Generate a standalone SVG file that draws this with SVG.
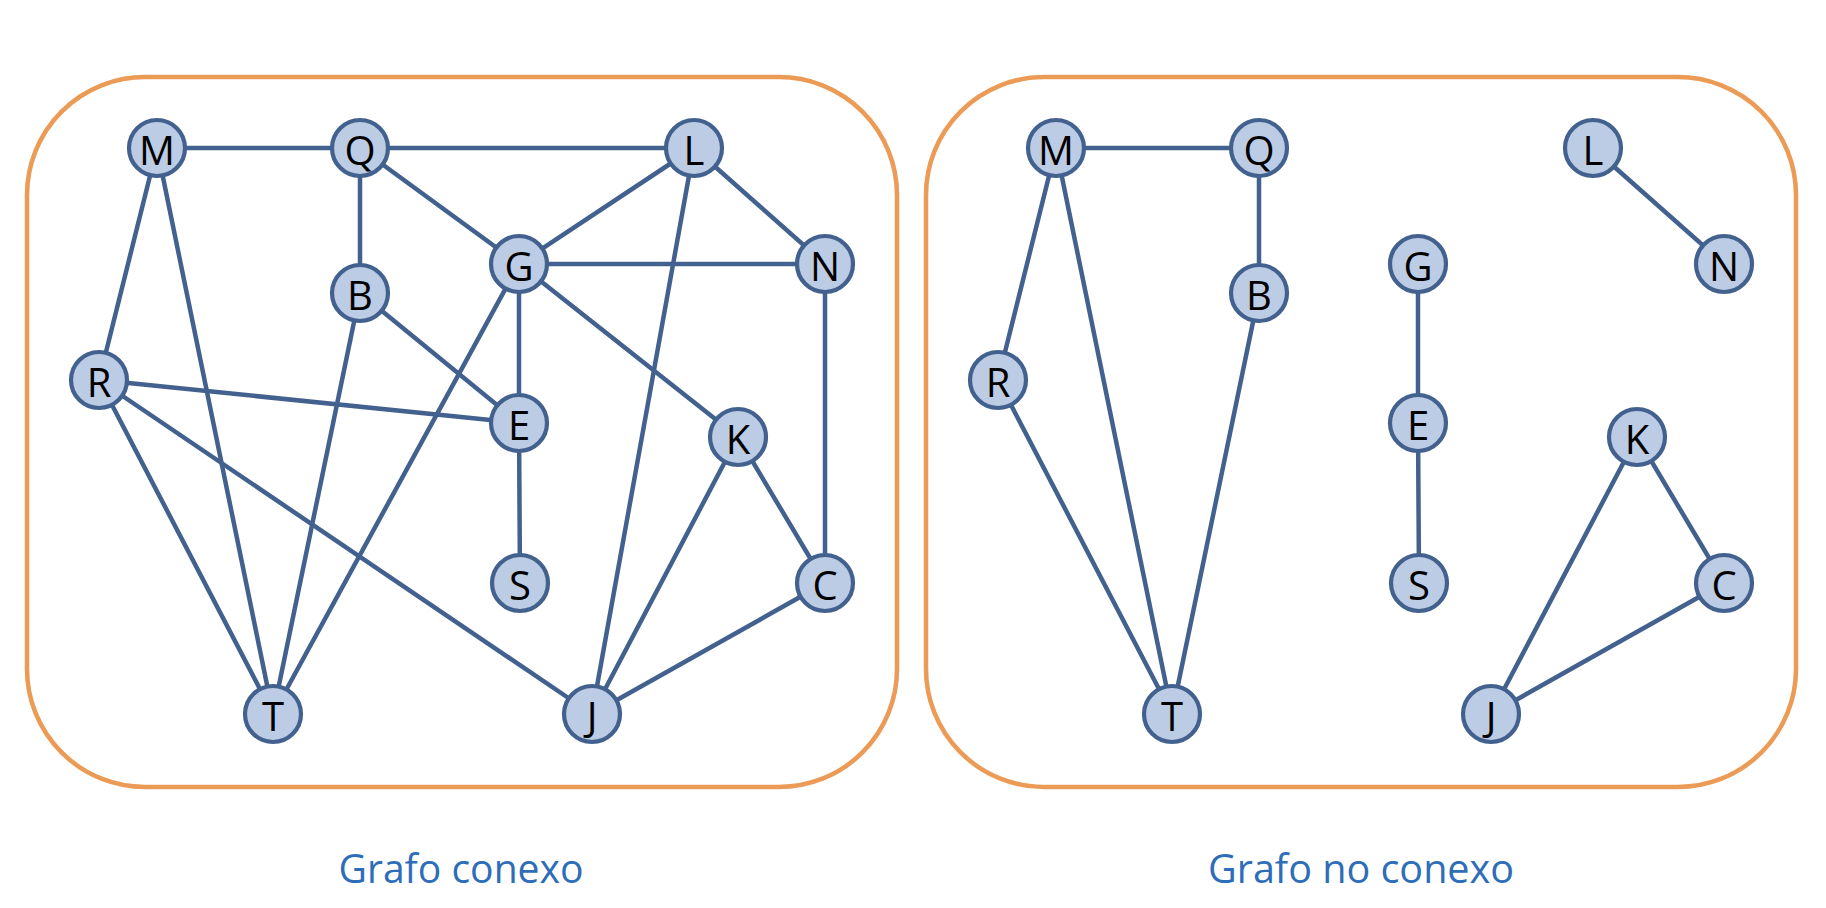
<svg xmlns="http://www.w3.org/2000/svg" width="1826" height="908" viewBox="0 0 1826 908">
<style>
.frame{fill:none;stroke:#EB9B55;stroke-width:4.5}
.edge{stroke:#42618F;stroke-width:4.5;stroke-linecap:round}
.node circle{fill:#BCCCE4;stroke:#42618F;stroke-width:4.2}
.node text{font-family:"Open Sans","Noto Sans","Liberation Sans",sans-serif;font-size:40px;fill:#000;text-anchor:middle}
.cap{font-family:"Open Sans","Noto Sans","Liberation Sans",sans-serif;font-size:40px;fill:#2E6DB8;text-anchor:middle}
</style>
<rect width="1826" height="908" fill="#fff"/>
<g id="frames">
<rect class="frame" x="27" y="77" width="870" height="710" rx="118" ry="118"/>
<rect class="frame" x="926" y="77" width="870" height="710" rx="118" ry="118"/>
</g>
<g id="connectors">
<line class="edge" x1="157" y1="148" x2="360" y2="148"/>
<line class="edge" x1="360" y1="148" x2="694" y2="148"/>
<line class="edge" x1="157" y1="148" x2="99" y2="380"/>
<line class="edge" x1="157" y1="148" x2="273" y2="714"/>
<line class="edge" x1="360" y1="148" x2="360" y2="293"/>
<line class="edge" x1="360" y1="148" x2="519" y2="264"/>
<line class="edge" x1="694" y1="148" x2="519" y2="264"/>
<line class="edge" x1="694" y1="148" x2="825" y2="264"/>
<line class="edge" x1="694" y1="148" x2="592" y2="714"/>
<line class="edge" x1="519" y1="264" x2="825" y2="264"/>
<line class="edge" x1="519" y1="264" x2="519" y2="423"/>
<line class="edge" x1="519" y1="264" x2="738" y2="437"/>
<line class="edge" x1="519" y1="264" x2="273" y2="714"/>
<line class="edge" x1="360" y1="293" x2="519" y2="423"/>
<line class="edge" x1="360" y1="293" x2="273" y2="714"/>
<line class="edge" x1="99" y1="380" x2="519" y2="423"/>
<line class="edge" x1="99" y1="380" x2="273" y2="714"/>
<line class="edge" x1="99" y1="380" x2="592" y2="714"/>
<line class="edge" x1="519" y1="423" x2="520" y2="583"/>
<line class="edge" x1="825" y1="264" x2="825" y2="583"/>
<line class="edge" x1="738" y1="437" x2="825" y2="583"/>
<line class="edge" x1="738" y1="437" x2="592" y2="714"/>
<line class="edge" x1="825" y1="583" x2="592" y2="714"/>
<line class="edge" x1="1056" y1="148" x2="1259" y2="148"/>
<line class="edge" x1="1056" y1="148" x2="998" y2="380"/>
<line class="edge" x1="1056" y1="148" x2="1172" y2="714"/>
<line class="edge" x1="1259" y1="148" x2="1259" y2="293"/>
<line class="edge" x1="1259" y1="293" x2="1172" y2="714"/>
<line class="edge" x1="998" y1="380" x2="1172" y2="714"/>
<line class="edge" x1="1418" y1="264" x2="1418" y2="423"/>
<line class="edge" x1="1418" y1="423" x2="1419" y2="583"/>
<line class="edge" x1="1593" y1="148" x2="1724" y2="264"/>
<line class="edge" x1="1637" y1="437" x2="1724" y2="583"/>
<line class="edge" x1="1637" y1="437" x2="1491" y2="714"/>
<line class="edge" x1="1724" y1="583" x2="1491" y2="714"/>
</g>
<g id="L_M" class="node"><circle cx="157" cy="148" r="28"/><text x="157" y="164.5">M</text></g>
<g id="L_Q" class="node"><circle cx="360" cy="148" r="28"/><text x="360" y="164.5">Q</text></g>
<g id="L_L" class="node"><circle cx="694" cy="148" r="28"/><text x="694" y="164.5">L</text></g>
<g id="L_G" class="node"><circle cx="519" cy="264" r="28"/><text x="519" y="280.5">G</text></g>
<g id="L_N" class="node"><circle cx="825" cy="264" r="28"/><text x="825" y="280.5">N</text></g>
<g id="L_B" class="node"><circle cx="360" cy="293" r="28"/><text x="360" y="309.5">B</text></g>
<g id="L_R" class="node"><circle cx="99" cy="380" r="28"/><text x="99" y="396.5">R</text></g>
<g id="L_E" class="node"><circle cx="519" cy="423" r="28"/><text x="519" y="439.5">E</text></g>
<g id="L_K" class="node"><circle cx="738" cy="437" r="28"/><text x="738" y="453.5">K</text></g>
<g id="L_S" class="node"><circle cx="520" cy="583" r="28"/><text x="520" y="599.5">S</text></g>
<g id="L_C" class="node"><circle cx="825" cy="583" r="28"/><text x="825" y="599.5">C</text></g>
<g id="L_T" class="node"><circle cx="273" cy="714" r="28"/><text x="273" y="730.5">T</text></g>
<g id="L_J" class="node"><circle cx="592" cy="714" r="28"/><text x="592" y="730.5">J</text></g>
<g id="R_M" class="node"><circle cx="1056" cy="148" r="28"/><text x="1056" y="164.5">M</text></g>
<g id="R_Q" class="node"><circle cx="1259" cy="148" r="28"/><text x="1259" y="164.5">Q</text></g>
<g id="R_L" class="node"><circle cx="1593" cy="148" r="28"/><text x="1593" y="164.5">L</text></g>
<g id="R_G" class="node"><circle cx="1418" cy="264" r="28"/><text x="1418" y="280.5">G</text></g>
<g id="R_N" class="node"><circle cx="1724" cy="264" r="28"/><text x="1724" y="280.5">N</text></g>
<g id="R_B" class="node"><circle cx="1259" cy="293" r="28"/><text x="1259" y="309.5">B</text></g>
<g id="R_R" class="node"><circle cx="998" cy="380" r="28"/><text x="998" y="396.5">R</text></g>
<g id="R_E" class="node"><circle cx="1418" cy="423" r="28"/><text x="1418" y="439.5">E</text></g>
<g id="R_K" class="node"><circle cx="1637" cy="437" r="28"/><text x="1637" y="453.5">K</text></g>
<g id="R_S" class="node"><circle cx="1419" cy="583" r="28"/><text x="1419" y="599.5">S</text></g>
<g id="R_C" class="node"><circle cx="1724" cy="583" r="28"/><text x="1724" y="599.5">C</text></g>
<g id="R_T" class="node"><circle cx="1172" cy="714" r="28"/><text x="1172" y="730.5">T</text></g>
<g id="R_J" class="node"><circle cx="1491" cy="714" r="28"/><text x="1491" y="730.5">J</text></g>
<g id="captions">
<text class="cap" x="461" y="883" textLength="245" lengthAdjust="spacingAndGlyphs">Grafo conexo</text>
<text class="cap" x="1361" y="883" textLength="306" lengthAdjust="spacingAndGlyphs">Grafo no conexo</text>
</g>
</svg>
